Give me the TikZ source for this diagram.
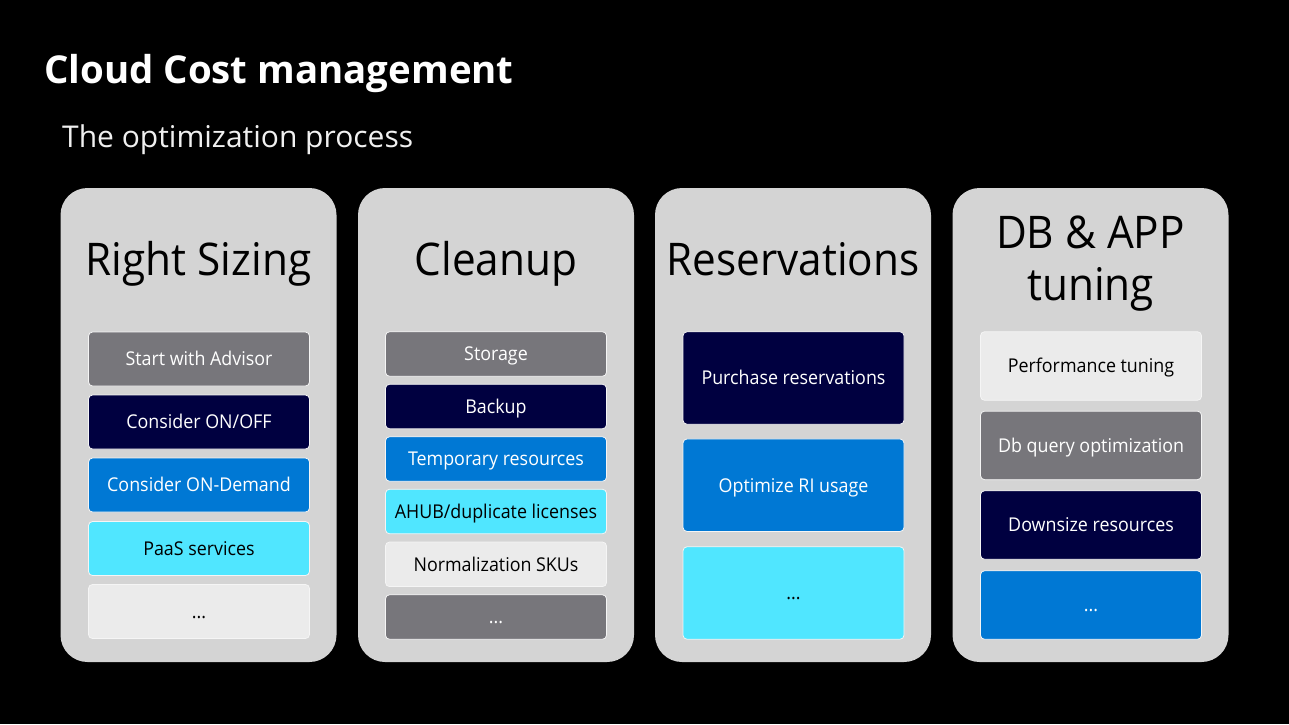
\documentclass[tikz,border=0pt]{standalone}
\usepackage{fontspec}
\setmainfont{Open Sans}
\newfontfamily\narrowfont[FakeStretch=0.94]{Open Sans}
\definecolor{cardbg}{HTML}{D4D4D4}
\definecolor{cgray}{HTML}{77767B}
\definecolor{cnavy}{HTML}{000040}
\definecolor{cblue}{HTML}{0078D4}
\definecolor{ccyan}{HTML}{50E6FF}
\definecolor{clight}{HTML}{EBEBEB}
\definecolor{csub}{HTML}{F0F0F0}
\tikzset{
  card/.style={fill=cardbg, rounded corners=27pt, minimum width=276pt, minimum height=474pt, inner sep=0pt},
  cardtitle/.style={anchor=base, text=black, font=\narrowfont\fontsize{45}{52}\selectfont, inner sep=0pt},
  item/.style={draw=white!92!gray, line width=0.8pt, rounded corners=4pt, minimum width=221pt,
     inner sep=0pt, text height=13.6pt, text depth=0pt, font=\narrowfont\fontsize{19}{22}\selectfont},
  igray/.style={item, fill=cgray, text=white},
  inavy/.style={item, fill=cnavy, text=white},
  iblue/.style={item, fill=cblue, text=white},
  icyan/.style={item, fill=ccyan, text=black},
  ilight/.style={item, fill=clight, text=black},
}
\begin{document}
\begin{tikzpicture}[x=1pt,y=-1pt]
\fill[black] (0,0) rectangle (1289,724);
\useasboundingbox (0,0) rectangle (1289,724);
\node[anchor=base west, inner sep=0pt, text=white, font=\fontsize{38.4}{44}\selectfont\bfseries] (title) at (44,83) {Cloud Cost management};
\node[anchor=base west, inner sep=0pt, text=csub, font=\fontsize{30}{36}\selectfont] (subtitle) at (62,147) {The optimization process};
% cards
\node[card] (c1) at (198.5,425) {};
\node[card] (c2) at (496,425) {};
\node[card] (c3) at (793,425) {};
\node[card] (c4) at (1090.5,425) {};
\node[cardtitle] (t1) at (198.5,275) {Right Sizing};
\node[cardtitle] (t2) at (496,275) {Cleanup};
\node[cardtitle] (t3) at (793,275) {Reservations};
\node[cardtitle] (t4a) at (1090.5,248) {DB \& APP};
\node[cardtitle] (t4b) at (1090.5,300) {tuning};
% card 1
\begin{scope}[every node/.append style={minimum height=54pt}]
\node[igray] (a1) at (199,359) {Start with Advisor};
\node[inavy] (a2) at (199,422) {Consider ON/OFF};
\node[iblue] (a3) at (199,485) {Consider ON-Demand};
\node[icyan] (a4) at (199,548.5) {PaaS services};
\node[ilight] (a5) at (199,611.5) {...};
\end{scope}
% card 2
\begin{scope}[every node/.append style={minimum height=44.5pt}]
\node[igray] (b1) at (496,354) {Storage};
\node[inavy] (b2) at (496,406.5) {Backup};
\node[iblue] (b3) at (496,459) {Temporary resources};
\node[icyan] (b4) at (496,511.5) {AHUB/duplicate licenses};
\node[ilight] (b5) at (496,564.3) {Normalization SKUs};
\node[igray] (b6) at (496,617) {...};
\end{scope}
% card 3
\begin{scope}[every node/.append style={minimum height=92.5pt}]
\node[inavy] (d1) at (793.5,378) {Purchase reservations};
\node[iblue] (d2) at (793.5,485.2) {Optimize RI usage};
\node[icyan] (d3) at (793.5,593) {...};
\end{scope}
% card 4
\begin{scope}[every node/.append style={minimum height=68.5pt}]
\node[ilight] (e1) at (1091,366) {Performance tuning};
\node[igray] (e2) at (1091,445.4) {Db query optimization};
\node[inavy] (e3) at (1091,525) {Downsize resources};
\node[iblue] (e4) at (1091,605) {...};
\end{scope}
\end{tikzpicture}
\end{document}
